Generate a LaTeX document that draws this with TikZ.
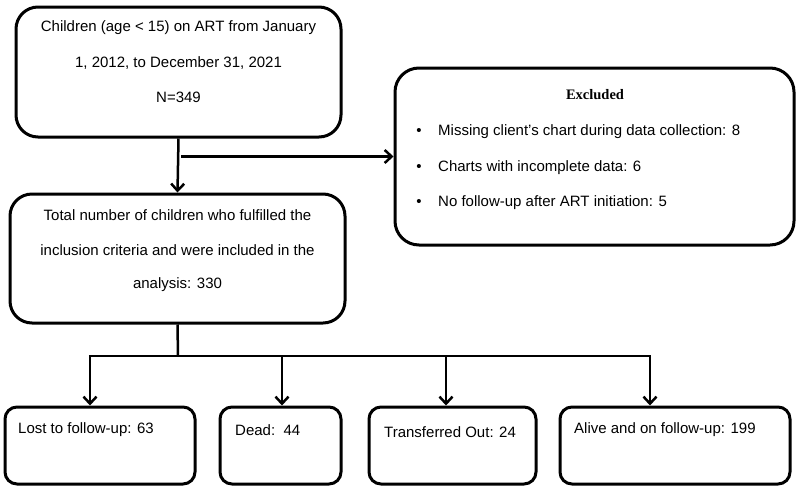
\documentclass[tikz,border=0pt]{standalone}
\usepackage{fontspec}
\setmainfont{Liberation Sans}
\newfontfamily\serifbold{Liberation Serif}[BoldFont={* Bold}]
\usetikzlibrary{arrows.meta}
\begin{document}
\begin{tikzpicture}[x=1pt,y=-1pt,
  box/.style={draw, line width=3pt, rounded corners=#1, inner sep=0pt},
  box/.default=18pt,
  txt/.style={font=\fontsize{15}{18}\selectfont, inner sep=0pt},
  bul/.style={font=\fontsize{15}{18}\selectfont, inner sep=0pt},
  conn/.style={line width=2.5pt},
  arr/.style={conn, -{Straight Barb[length=7pt,width=13pt]}}]
\useasboundingbox (0,0) rectangle (800,488);

% boxes
\node[box=22pt, minimum width=325pt, minimum height=130pt] (top) at (178.5,72) {};
\node[box=24pt, minimum width=399pt, minimum height=177pt] (excl) at (594.5,156.5) {};
\node[box=22pt, minimum width=335pt, minimum height=129pt] (mid) at (177.5,258.5) {};
\node[box=12pt, minimum width=190pt, minimum height=77pt] (lost) at (100,445.5) {};
\node[box=12pt, minimum width=121pt, minimum height=77pt] (dead) at (280.5,445.5) {};
\node[box=12pt, minimum width=167pt, minimum height=77pt] (trans) at (452.5,445.5) {};
\node[box=12pt, minimum width=230pt, minimum height=77pt] (alive) at (675,445.5) {};

% texts
\node[txt] (t1) at (178.5,28) {Children (age < 15) on ART from January};
\node[txt] (t2) at (178.5,63) {1, 2012, to December 31, 2021};
\node[txt] (t3) at (178.5,97) {N=349};

\node[txt, font=\fontsize{14.5}{17}\selectfont\serifbold\bfseries] (eh) at (595,95) {Excluded};
\node[bul] (bu1) at (419,132) {\textbullet};
\node[bul] (bu2) at (419,168) {\textbullet};
\node[bul] (bu3) at (419,203) {\textbullet};
\node[txt, anchor=west] (e1) at (438,132) {Missing client’s chart during data collection: 8};
\node[txt, anchor=west] (e2) at (438,168) {Charts with incomplete data: 6};
\node[txt, anchor=west] (e3) at (438,203) {No follow-up after ART initiation: 5};

\node[txt] (m1) at (177.5,215) {Total number of children who fulfilled the};
\node[txt] (m2) at (177.5,250) {inclusion criteria and were included in the};
\node[txt] (m3) at (177.5,285) {analysis: 330};

\node[txt, anchor=west] (l1) at (18,430) {Lost to follow-up: 63};
\node[txt, anchor=west] (d1) at (235,430) {Dead:\ \ 44};
\node[txt, anchor=west] (tr1) at (384,432) {Transferred Out: 24};
\node[txt, anchor=west] (a1) at (574,430) {Alive and on follow-up: 199};

% connectors
\coordinate (split) at (181,156.5);
\coordinate (hub) at (178,356);
\coordinate (b1) at (90,356);
\coordinate (b2) at (282,356);
\coordinate (b3) at (446,356);
\coordinate (b4) at (650,356);

\draw[arr] (top.south) -- (mid.north);
\draw[arr] (split) -- (excl.west);
\draw[conn] (mid.south) -- (hub);
\draw[conn] ([xshift=-1.25pt]b1) -- ([xshift=1.25pt]b4);
\draw[arr] (b1) -- (b1 |- lost.north);
\draw[arr] (b2) -- (b2 |- dead.north);
\draw[arr] (b3) -- (b3 |- trans.north);
\draw[arr] (b4) -- (b4 |- alive.north);
\end{tikzpicture}
\end{document}
